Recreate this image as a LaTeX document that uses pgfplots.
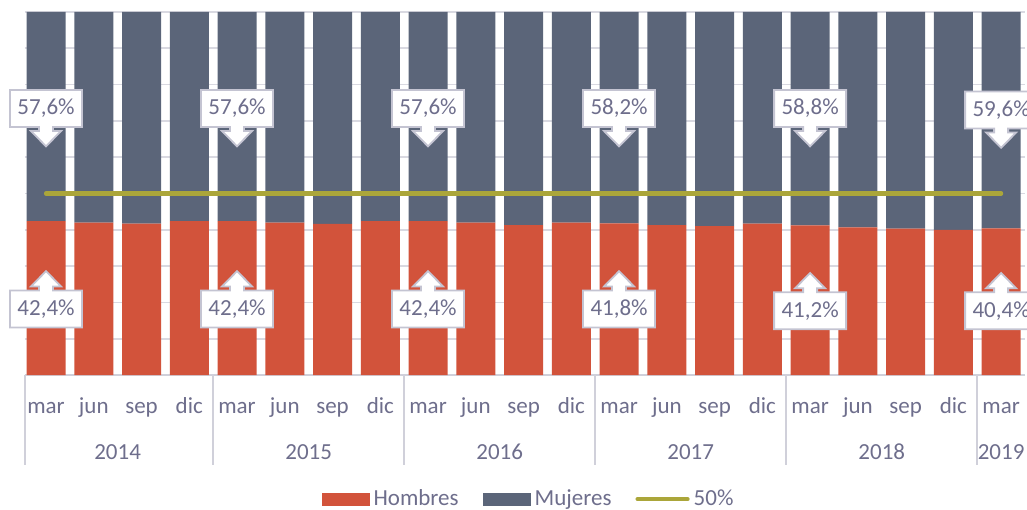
\documentclass[border=0pt]{standalone}
\usepackage{pgfplots}
\usepackage{pgfplotstable}
\pgfplotsset{compat=1.18}
\usepackage{fontspec}
\setmainfont{Carlito}
\definecolor{hom}{HTML}{D2533B}
\definecolor{muj}{HTML}{5B6579}
\definecolor{fifty}{HTML}{ABA63A}
\definecolor{txt}{HTML}{6E6E8C}
\definecolor{gridc}{HTML}{D9D9E1}
\definecolor{sepc}{HTML}{D0D0DA}
\definecolor{cboxc}{HTML}{C4C4D2}
\newcommand{\lblfont}{\fontsize{11.5}{14}\selectfont}
\newcommand{\downcallout}[2]{%
 \draw[cboxc, fill=white, line width=0.9pt, line join=miter] (#1) ++(-18pt,9.25pt) -- ++(36pt,0pt) -- ++(0pt,-18.5pt) -- ++(-14.5pt,0pt) -- ++(0pt,-2pt) -- ++(4pt,0pt) -- ++(-7.5pt,-7.65pt) -- ++(-7.5pt,7.65pt) -- ++(4pt,0pt) -- ++(0pt,2pt) -- ++(-14.5pt,0pt) -- cycle;
 \node[text=txt, font=\lblfont] at (#1) {#2};}
\newcommand{\upcallout}[2]{%
 \draw[cboxc, fill=white, line width=0.9pt, line join=miter] (#1) ++(-18pt,-9.25pt) -- ++(36pt,0pt) -- ++(0pt,18.5pt) -- ++(-14.5pt,0pt) -- ++(0pt,2pt) -- ++(4pt,0pt) -- ++(-7.5pt,7.65pt) -- ++(-7.5pt,-7.65pt) -- ++(4pt,0pt) -- ++(0pt,-2pt) -- ++(-14.5pt,0pt) -- cycle;
 \node[text=txt, font=\lblfont] at (#1) {#2};}
\newcommand{\sepline}[1]{\draw[sepc, line width=0.8pt] (axis cs:#1,0) -- ++(0pt,-45pt);}

\pgfplotstableread{
k hom muj
0 42.4 57.6
1 42.0 58.0
2 41.7 58.3
3 42.4 57.6
4 42.4 57.6
5 42.0 58.0
6 41.6 58.4
7 42.4 57.6
8 42.4 57.6
9 42.0 58.0
10 41.3 58.7
11 42.0 58.0
12 41.8 58.2
13 41.3 58.7
14 41.0 59.0
15 41.7 58.3
16 41.2 58.8
17 40.7 59.3
18 40.3 59.7
19 40.0 60.0
20 40.4 59.6
}\data

\begin{document}
\begin{tikzpicture}
\begin{axis}[name=ax, set layers, scale only axis, width=500pt, height=181.5pt,
 xmin=-0.44, xmax=20.5, ymin=0, ymax=100,
 ybar stacked, bar width=19.5pt,
 xtick=data,
 xticklabels={mar,jun,sep,dic,mar,jun,sep,dic,mar,jun,sep,dic,mar,jun,sep,dic,mar,jun,sep,dic,mar},
 ytick={0,10,...,100}, yticklabels={},
 ymajorgrids, grid style={gridc, line width=0.9pt},
 major tick length=0pt,
 axis line style={draw=none},
 xticklabel style={anchor=base, yshift=-19pt, font=\lblfont, text=txt},
 clip=false,
 legend columns=3,
 legend style={at={(0.5045,-0.342)}, anchor=center, draw=none, fill=none,
   font=\lblfont, text=txt,
   /tikz/every even column/.append style={column sep=10pt}},
]
\addplot[fill=hom, draw=none,
  legend image code/.code={\fill[hom] (0pt,-3.2pt) rectangle (24pt,3.2pt);}] table[x=k, y=hom] {\data};
\addlegendentry{Hombres}
\addplot[fill=muj, draw=none,
  legend image code/.code={\fill[muj] (0pt,-3.2pt) rectangle (24pt,3.2pt);}] table[x=k, y=muj] {\data};
\addlegendentry{Mujeres}
\addplot[stack plots=false, sharp plot, on layer=axis foreground, fifty, line width=2.1pt, line cap=round, mark=none,
  legend image code/.code={\draw[fifty, line width=2.1pt, line cap=round] (0pt,0pt) -- (25pt,0pt);}]
  coordinates {(0,50) (20,50)};
\addlegendentry{50\%}

\draw[sepc, line width=0.8pt] (axis cs:-0.44,0) -- (axis cs:20.5,0);
\sepline{-0.44}
\sepline{3.5}
\sepline{7.5}
\sepline{11.5}
\sepline{15.5}
\sepline{19.5}
\node[anchor=base, yshift=-42pt, text=txt, font=\lblfont] at (axis cs:1.5,0) {2014};
\node[anchor=base, yshift=-42pt, text=txt, font=\lblfont] at (axis cs:5.5,0) {2015};
\node[anchor=base, yshift=-42pt, text=txt, font=\lblfont] at (axis cs:9.5,0) {2016};
\node[anchor=base, yshift=-42pt, text=txt, font=\lblfont] at (axis cs:13.5,0) {2017};
\node[anchor=base, yshift=-42pt, text=txt, font=\lblfont] at (axis cs:17.5,0) {2018};
\node[anchor=base, yshift=-42pt, text=txt, font=\lblfont] at (axis cs:20,0) {2019};

\coordinate (d0) at (axis cs:0,73.4);
\coordinate (d4) at (axis cs:4,73.4);
\coordinate (d8) at (axis cs:8,73.4);
\coordinate (d12) at (axis cs:12,73.4);
\coordinate (d16) at (axis cs:16,73.4);
\coordinate (d20) at (axis cs:20,73.0);
\coordinate (u0) at (axis cs:0,18.2);
\coordinate (u4) at (axis cs:4,18.2);
\coordinate (u8) at (axis cs:8,18.2);
\coordinate (u12) at (axis cs:12,18.2);
\coordinate (u16) at (axis cs:16,17.7);
\coordinate (u20) at (axis cs:20,17.7);
\end{axis}
\downcallout{d0}{57,6\%}
\downcallout{d4}{57,6\%}
\downcallout{d8}{57,6\%}
\downcallout{d12}{58,2\%}
\downcallout{d16}{58,8\%}
\downcallout{d20}{59,6\%}
\upcallout{u0}{42,4\%}
\upcallout{u4}{42,4\%}
\upcallout{u8}{42,4\%}
\upcallout{u12}{41,8\%}
\upcallout{u16}{41,2\%}
\upcallout{u20}{40,4\%}
\pgfresetboundingbox
\useasboundingbox ([shift={(-12.5pt,-67pt)}]ax.south west) rectangle ([shift={(1pt,6pt)}]ax.north east);
\end{tikzpicture}
\end{document}
